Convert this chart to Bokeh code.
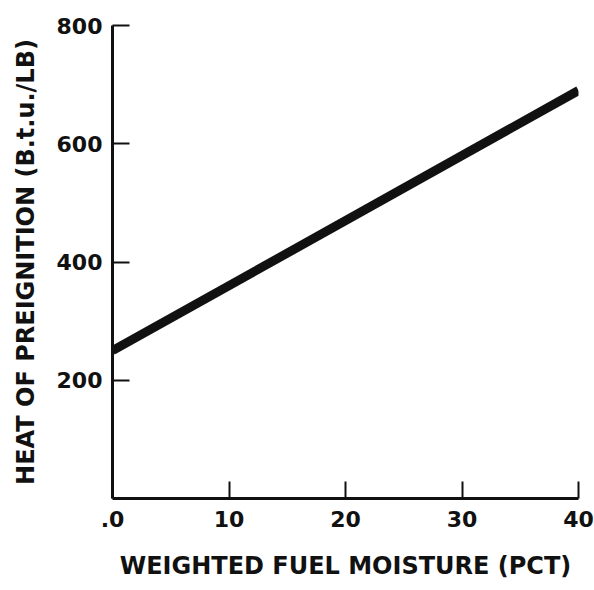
from bokeh.plotting import figure
from bokeh.models import FixedTicker, Range1d
from bokeh.embed import file_html
from bokeh.resources import INLINE

# Data
moisture_pct = [0, 40]
heat_btu_lb = [250, 690]
x_ticks = [0, 10, 20, 30, 40]
x_tick_labels = [".0", "10", "20", "30", "40"]
y_ticks = [200, 400, 600, 800]
x_label = "WEIGHTED FUEL MOISTURE (PCT)"
y_label = "HEAT OF PREIGNITION (B.t.u./LB)"

FONT = "DejaVu Sans"

p = figure(width=594, height=590, output_backend="svg", toolbar_location=None,
           x_range=Range1d(0, 40), y_range=Range1d(0, 800),
           min_border_left=112, min_border_right=16, min_border_top=25,
           min_border_bottom=92)
p.outline_line_color = None
p.xgrid.visible = False
p.ygrid.visible = False
p.background_fill_color = "white"
p.border_fill_color = "white"

p.line(moisture_pct, heat_btu_lb, line_width=9, line_color="#111111", line_cap="butt")

for ax in (p.xaxis[0], p.yaxis[0]):
    ax.axis_line_width = 3
    ax.axis_line_color = "#111111"
    ax.major_tick_in = 17
    ax.major_tick_out = 0
    ax.major_tick_line_width = 2
    ax.major_tick_line_color = "#111111"
    ax.minor_tick_line_color = None
    ax.major_label_text_font = FONT
    ax.major_label_text_font_style = "bold"
    ax.major_label_text_font_size = "22px"
    ax.major_label_text_color = "#111111"
    ax.axis_label_text_font = FONT
    ax.axis_label_text_font_style = "bold"
    ax.axis_label_text_font_size = "24px"
    ax.axis_label_text_color = "#111111"

p.xaxis.ticker = FixedTicker(ticks=x_ticks)
p.xaxis.major_label_overrides = {t: l for t, l in zip(x_ticks, x_tick_labels)}
p.yaxis.ticker = FixedTicker(ticks=y_ticks)
p.xaxis.axis_label = x_label
p.yaxis.axis_label = y_label
p.xaxis.major_label_standoff = 12
p.yaxis.major_label_standoff = 10
p.xaxis.axis_label_standoff = 22
p.yaxis.axis_label_standoff = 14

open("out.html", "w").write(file_html(p, INLINE))
